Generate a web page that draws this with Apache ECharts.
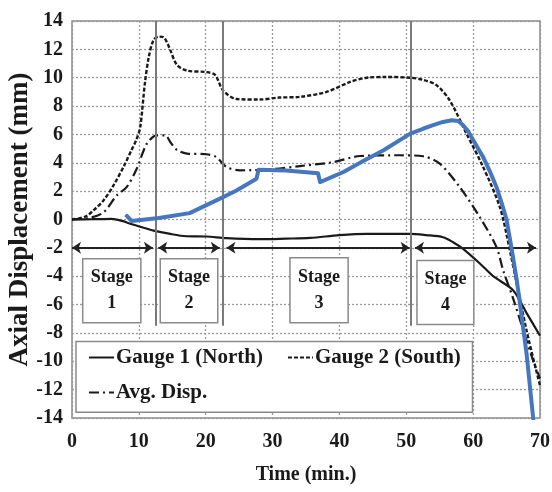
<!DOCTYPE html>
<html>
<head>
<meta charset="utf-8">
<script src="https://cdn.jsdelivr.net/npm/echarts@6/dist/echarts.min.js"></script>
<style>html,body{margin:0;padding:0;background:#fff}#c{width:552px;height:492px}</style>
</head>
<body>
<div id="c"></div>
<script>
// ---- data ----
const xTicks = [0, 10, 20, 30, 40, 50, 60, 70];
const yTicks = [-14, -12, -10, -8, -6, -4, -2, 0, 2, 4, 6, 8, 10, 12, 14];

const gauge1Time = [0, 3, 5.9, 7.5, 8.7, 10.5, 12.2, 14.5, 17.1, 20.1, 23.1, 28.1, 32, 35.6, 40, 44.1, 50.6, 53, 55.5, 57, 58.5, 61, 63, 66, 68, 70];
const gauge1Disp = [0, 0.02, 0.05, -0.1, -0.3, -0.55, -0.78, -1.0, -1.18, -1.2, -1.32, -1.39, -1.35, -1.3, -1.1, -1.01, -1.01, -1.1, -1.25, -1.6, -2.07, -3.1, -4.0, -5.0, -6.6, -8.2];

const gauge2Time = [0, 2, 3.2, 4.7, 6.2, 7.8, 8.9, 9.6, 10.2, 10.9, 11.5, 12.2, 13.0, 13.7, 14.2, 14.7, 15.7, 17.2, 20.1, 21.4, 22.6, 24.6, 28.1, 31, 34.1, 38.1, 41.6, 44.1, 47, 50.6, 52.5, 54.5, 56.5, 59.0, 61.5, 64, 65.5, 68, 70];
const gauge2Disp = [0, 0.2, 0.64, 1.34, 2.4, 3.8, 4.9, 5.6, 6.5, 9.6, 11.5, 12.66, 12.9, 12.85, 12.5, 11.95, 10.9, 10.5, 10.4, 10.2, 9.1, 8.5, 8.46, 8.6, 8.65, 9.0, 9.7, 10.0, 10.05, 10.0, 9.85, 9.48, 8.4, 6.06, 3.7, 0.87, -2.2, -7.85, -11.7];

const avgTime = [0, 2.5, 4.7, 6.7, 8.2, 9.7, 11.2, 12.7, 13.9, 14.8, 15.7, 17.2, 20.1, 21.6, 23.1, 25.1, 30, 34.1, 39.1, 43.1, 49.1, 52.5, 55, 58, 61, 63.5, 64.5, 66, 69, 70];
const avgDisp = [0, 0.1, 0.5, 1.7, 2.3, 3.6, 5.35, 5.94, 5.94, 5.4, 4.9, 4.65, 4.6, 4.4, 3.7, 3.47, 3.55, 3.77, 4.05, 4.48, 4.53, 4.46, 3.94, 2.28, 0.16, -1.96, -3.6, -5.6, -10.0, -11.2];

const blueTime = [8.2, 8.9, 13, 17.6, 22.6, 24.6, 27.6, 27.9, 32, 36.8, 37.1, 40.6, 43.5, 46.6, 50.6, 52.5, 54.0, 55.5, 56.8, 57.8, 58.5, 59.3, 60, 61.5, 62.5, 63.5, 64.3, 65, 65.8, 66.5, 67, 68, 69];
const blueDisp = [0.25, -0.1, 0.1, 0.45, 1.58, 2.05, 2.88, 3.51, 3.45, 3.27, 2.64, 3.35, 4.1, 4.88, 6.06, 6.4, 6.65, 6.88, 7.0, 6.95, 6.65, 6.2, 5.6, 4.4, 3.4, 2.28, 1.1, 0, -2.2, -4.2, -5.9, -9.5, -14.1];

const stageNames = ['Stage\n1', 'Stage\n2', 'Stage\n3', 'Stage\n4'];
const stageBoundaries = [12.6, 22.6, 50.7];
const stageArrowStart = [0, 12.9, 23.1, 51.3];
const stageArrowEnd = [12.1, 22.1, 50.5, 69.4];
const stageArrowLevel = -2;
const stageBoxX1 = [1.6, 13.2, 32.6, 51.6];
const stageBoxX2 = [10.3, 21.8, 41.3, 60.1];
const stageBoxTop = [-2.76, -2.76, -2.69, -2.9];
const stageBoxBottom = [-7.28, -7.28, -7.28, -7.4];

const seriesNames = ['Gauge 1 (North)', 'Gauge 2 (South)', 'Avg. Disp.'];

// ---- build ----
const zip = (a, b) => a.map((v, i) => [v, b[i]]);
const FONT = 'Liberation Serif';
const dark = '#1a1a1a';

const stageAreas = stageNames.map((n, i) => [
  { name: n, coord: [stageBoxX1[i], stageBoxTop[i]] },
  { coord: [stageBoxX2[i], stageBoxBottom[i]] }
]);
stageAreas.push([
  { name: '', coord: [0.6, -8.6], label: { show: false } },
  { coord: [59.9, -13.6] }
]);

const arrowLines = stageArrowStart.map((s, i) => [
  { coord: [s, stageArrowLevel], symbol: 'arrow' },
  { coord: [stageArrowEnd[i], stageArrowLevel], symbol: 'arrow' }
]);
const boundaryLines = stageBoundaries.map(b => [
  { coord: [b, 14], symbol: 'none' },
  { coord: [b, -7.5], symbol: 'none' }
]);

const legendCommon = {
  padding: 0, itemWidth: 25, itemHeight: 14, orient: 'horizontal', selectedMode: false,
  itemStyle: { opacity: 0, borderWidth: 0 },
  textStyle: { fontFamily: FONT, fontWeight: 'bold', fontSize: 21, color: dark, padding: [0, 0, 0, -3] }
};

const chart = echarts.init(document.getElementById('c'), null, { renderer: 'canvas' });
chart.setOption({
  animation: false,
  backgroundColor: '#fff',
  grid: { left: 72, right: 12, top: 21, bottom: 74, outerBoundsMode: 'none', containLabel: false,
    show: true, borderColor: '#8a8a8a', borderWidth: 1.5, backgroundColor: 'transparent' },
  xAxis: {
    type: 'value', min: 0, max: 70, interval: 10,
    name: 'Time (min.)', nameLocation: 'middle', nameGap: 47, nameMoveOverlap: false,
    nameTextStyle: { fontFamily: FONT, fontWeight: 'bold', fontSize: 20, color: dark },
    axisLine: { show: false, onZero: false },
    axisTick: { show: false },
    axisLabel: { margin: 14, fontFamily: FONT, fontWeight: 'bold', fontSize: 20, color: dark,
      formatter: v => xTicks.includes(v) ? String(v) : '' },
    splitLine: { show: true, lineStyle: { color: '#9a9a9a', type: [2, 2], width: 1.3 } }
  },
  yAxis: {
    type: 'value', min: -14, max: 14, interval: 2,
    name: 'Axial Displacement (mm)', nameLocation: 'middle', nameGap: 38, nameRotate: 90, nameMoveOverlap: false,
    nameTextStyle: { fontFamily: FONT, fontWeight: 'bold', fontSize: 27, color: dark },
    axisLine: { show: false, onZero: false },
    axisTick: { show: false },
    axisLabel: { margin: 9, fontFamily: FONT, fontWeight: 'bold', fontSize: 20, color: dark,
      formatter: v => yTicks.includes(v) ? String(v) : '' },
    splitLine: { show: true, lineStyle: { color: '#9a9a9a', type: [2, 2], width: 1.3 } }
  },
  legend: [
    Object.assign({}, legendCommon, { data: [seriesNames[0], seriesNames[1]], left: 88, top: 347, itemGap: 24 }),
    Object.assign({}, legendCommon, { data: [seriesNames[2]], left: 88, top: 382 })
  ],
  series: [
    {
      name: 'annotations', type: 'line', z: 1, silent: true,
      data: [[0, 0]], symbol: 'none', lineStyle: { opacity: 0 },
      markArea: {
        silent: true,
        itemStyle: { color: '#fff', borderColor: '#8a8a8a', borderWidth: 1.5 },
        label: { show: true, position: 'inside', fontFamily: FONT, fontWeight: 'bold', fontSize: 18, lineHeight: 26, color: dark, formatter: '{b}' },
        data: stageAreas
      },
      markLine: {
        silent: true, symbolSize: 9,
        label: { show: false },
        lineStyle: { color: '#222', width: 2, type: 'solid' },
        data: arrowLines
      }
    },
    {
      name: 'boundaries', type: 'line', z: 1, silent: true,
      data: [[0, 0]], symbol: 'none', lineStyle: { opacity: 0 },
      markLine: {
        silent: true, symbol: 'none',
        label: { show: false },
        lineStyle: { color: '#7a7a7a', width: 2, type: 'solid' },
        data: boundaryLines
      }
    },
    {
      name: seriesNames[0], type: 'line', z: 3, data: zip(gauge1Time, gauge1Disp),
      symbol: 'none', smooth: 0.3, color: dark,
      lineStyle: { color: dark, width: 2.2, type: 'solid' }
    },
    {
      name: seriesNames[1], type: 'line', z: 3, data: zip(gauge2Time, gauge2Disp),
      symbol: 'none', smooth: 0.3, color: dark,
      lineStyle: { color: dark, width: 2.4, type: [4, 2] }
    },
    {
      name: seriesNames[2], type: 'line', z: 3, data: zip(avgTime, avgDisp),
      symbol: 'none', smooth: 0.3, color: dark,
      lineStyle: { color: dark, width: 2.2, type: [10, 4, 2, 4] }
    },
    {
      name: 'highlight', type: 'line', z: 5, data: zip(blueTime, blueDisp),
      symbol: 'none', smooth: false, color: '#4677be',
      lineStyle: { color: '#4677be', width: 4, cap: 'round', join: 'round' }
    }
  ]
});
</script>
</body>
</html>
